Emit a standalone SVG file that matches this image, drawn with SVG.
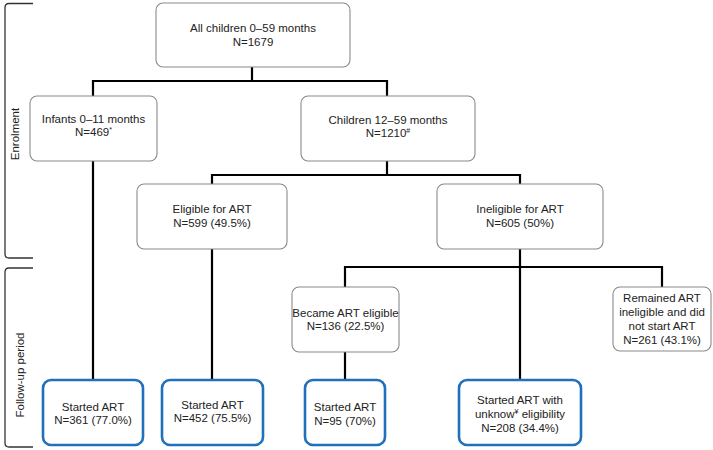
<svg xmlns="http://www.w3.org/2000/svg" width="713" height="450" viewBox="0 0 713 450">
<style>
.box{fill:#fff;stroke:#8a8a8a;stroke-width:1.1}
.fin{fill:#fff;stroke:#2070bb;stroke-width:2.6}
.t{font-family:"Liberation Sans",Arial,sans-serif;font-size:11.5px;fill:#222;text-anchor:middle}
.c{fill:none;stroke:#000;stroke-width:2.2}
.br{fill:none;stroke:#333;stroke-width:1.3}
.sup{font-size:7px}
</style>
<rect width="713" height="450" fill="#fff"/>
<g id="brackets">
<path class="br" d="M33,3.5 H9 Q5,3.5 5,7.5 V254 Q5,258 9,258 H33"/>
<path class="br" d="M33,268 H9 Q5,268 5,272 V443 Q5,447 9,447 H33"/>
<text class="t" transform="translate(19,134) rotate(-90)">Enrolment</text>
<text class="t" transform="translate(24,375) rotate(-90)">Follow-up period</text>
</g>
<g id="connectors">
<path class="c" d="M252,67 V81 M93,96 V81 H387 V96"/>
<path class="c" d="M93,161 V380"/>
<path class="c" d="M387,161 V175 M212,184 V175 H520 V184"/>
<path class="c" d="M212,249 V380"/>
<path class="c" d="M520,249 V380 M345,287 V267 H662 V287"/>
<path class="c" d="M345,352 V380"/>
</g>
<g id="n-all">
<rect class="box" x="156" y="3" width="194" height="64" rx="7"/>
<text class="t" x="253" y="32">All children 0–59 months</text>
<text class="t" x="253" y="46">N=1679</text>
</g>
<g id="n-infants">
<rect class="box" x="30" y="96" width="127" height="65" rx="7"/>
<text class="t" x="93.5" y="123">Infants 0–11 months</text>
<text class="t" x="93.5" y="136">N=469<tspan class="sup" dy="-4">*</tspan></text>
</g>
<g id="n-children">
<rect class="box" x="301" y="96" width="174" height="65" rx="7"/>
<text class="t" x="388" y="124">Children 12–59 months</text>
<text class="t" x="388" y="137">N=1210<tspan class="sup" dy="-4">#</tspan></text>
</g>
<g id="n-eligible">
<rect class="box" x="137" y="184" width="150" height="65" rx="7"/>
<text class="t" x="212" y="213">Eligible for ART</text>
<text class="t" x="212" y="227">N=599 (49.5%)</text>
</g>
<g id="n-ineligible">
<rect class="box" x="437" y="184" width="166" height="65" rx="7"/>
<text class="t" x="520" y="213">Ineligible for ART</text>
<text class="t" x="520" y="227">N=605 (50%)</text>
</g>
<g id="n-became">
<rect class="box" x="292" y="287" width="107" height="65" rx="7"/>
<text class="t" x="345.5" y="317">Became ART eligible</text>
<text class="t" x="345.5" y="330">N=136 (22.5%)</text>
</g>
<g id="n-remained">
<rect class="box" x="613" y="287" width="98" height="64" rx="7"/>
<text class="t" x="662" y="302">Remained ART</text>
<text class="t" x="662" y="316">ineligible and did</text>
<text class="t" x="662" y="330">not start ART</text>
<text class="t" x="662" y="344">N=261 (43.1%)</text>
</g>
<g id="n-start1">
<rect class="fin" x="43" y="380" width="100" height="65" rx="8"/>
<text class="t" x="93" y="411">Started ART</text>
<text class="t" x="93" y="424">N=361 (77.0%)</text>
</g>
<g id="n-start2">
<rect class="fin" x="162" y="380" width="101" height="65" rx="8"/>
<text class="t" x="212.5" y="409">Started ART</text>
<text class="t" x="212.5" y="422">N=452 (75.5%)</text>
</g>
<g id="n-start3">
<rect class="fin" x="305" y="380" width="80" height="65" rx="8"/>
<text class="t" x="345" y="411">Started ART</text>
<text class="t" x="345" y="425">N=95 (70%)</text>
</g>
<g id="n-start4">
<rect class="fin" x="459" y="380" width="122" height="65" rx="8"/>
<text class="t" x="520" y="404">Started ART with</text>
<text class="t" x="520" y="418">unknow<tspan class="sup" dy="-4">¥</tspan><tspan dy="4"> eligibility</tspan></text>
<text class="t" x="520" y="432">N=208 (34.4%)</text>
</g>
</svg>
